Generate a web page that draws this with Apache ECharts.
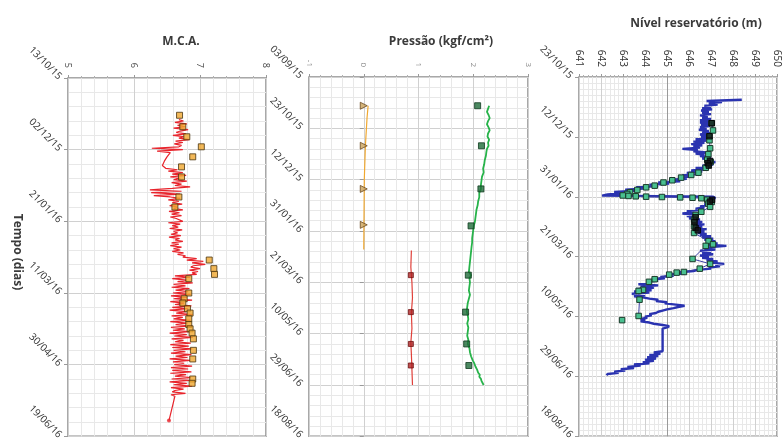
<!DOCTYPE html>
<html>
<head>
<meta charset="utf-8">
<script src="https://cdn.jsdelivr.net/npm/echarts@6/dist/echarts.min.js"></script>
<style>
html,body{margin:0;padding:0;background:#fff;}
#c{width:782px;height:442px;}
</style>
</head>
<body>
<div id="c"></div>
<script>
// ---------- Panel origins (time axis start of each panel) ----------
const mcaOrigin = '2015-10-13';
const presOrigin = '2015-09-03';
const nivOrigin = '2015-10-23';

// ---------- Panel 1: M.C.A. (days since 13/10/15) ----------
// daily readings starting at day 29 (null = no reading that day)
const mcaLineStart = 29;
const mcaLine = [
  6.68, 6.75, 6.62, 6.80, 6.66, 6.78, 6.60, 6.82, 6.70, 6.64, 6.79, 6.59, 6.76, 6.68, 6.84, 6.63, 6.74, 6.61, 6.72,
  6.68, 6.27, 6.74, 6.35,
  6.55, null, null, 6.50, null, null, 6.46, null, null, 6.43, null,
  6.48, 6.66, 6.52, 6.74, 6.58, 6.79, 6.55, 6.70, 6.60, 6.80, 6.57, 6.72,
  6.62, 6.85, 6.58,
  6.24, 6.72, 6.26, 6.70, 6.30,
  6.55, 6.70, 6.52, 6.68, 6.58, 6.73, 6.54, 6.66, 6.60, 6.74, 6.53, 6.69, 6.57, 6.72, 6.55, 6.64, 6.61, 6.74, 6.52, 6.70, 6.58,
  6.67, 6.54, 6.73, 6.60, 6.66, 6.56, 6.71, 6.53, 6.69, 6.62, 6.74, 6.57, 6.68, 6.55, 6.72, 6.60, 6.70, 6.58, 6.75, 6.66, 6.78,
  6.74, 6.95, 6.80, 7.05, 6.88, 7.08, 6.90,
  6.86, 7.00, 6.84, 6.97, 6.88, 6.95,
  6.62, 6.85, 6.58, 6.80, 6.66, 6.89, 6.60, 6.78, 6.57, 6.84, 6.63, 6.82, 6.59,
  6.86, 6.56, 6.80, 6.60, 6.88, 6.55, 6.76, 6.62, 6.87, 6.58, 6.82, 6.54, 6.79, 6.64, 6.89, 6.57, 6.74, 6.60, 6.86, 6.55,
  6.81, 6.63, 6.88, 6.56, 6.77, 6.59, 6.85, 6.54, 6.80, 6.61, 6.89, 6.57, 6.75, 6.62, 6.86, 6.55, 6.83, 6.58, 6.88, 6.60,
  6.78, 6.56, 6.87, 6.63, 6.81, 6.54, 6.85, 6.59, 6.76, 6.61, 6.88, 6.56, 6.82, 6.58, 6.87, 6.55, 6.79, 6.62, 6.86, 6.57,
  6.84, 6.54, 6.80, 6.60, 6.88, 6.56, 6.75, 6.62,
  6.58, 6.78, 6.56, 6.62,
  null, null, null, null, null, null, null, null, null, null, null, null, null, null, null, null,
  6.53
];
const mcaSquareDays = [26, 34, 41, 48, 55, 62, 69, 83, 90, 127, 133, 137, 140, 150, 154, 157, 161, 164, 168, 172, 175, 178, 182, 190, 196, 210, 213];
const mcaSquareVals = [6.69, 6.74, 6.80, 7.02, 6.89, 6.72, 6.72, 6.68, 6.62, 7.14, 7.21, 7.22, 6.83, 6.83, 6.76, 6.74, 6.81, 6.85, 6.83, 6.83, 6.85, 6.88, 6.90, 6.90, 6.89, 6.89, 6.88];

// ---------- Panel 2: Pressão (days since 03/09/15) ----------
const presOrangeLine = [[28, 0.08], [40, 0.06], [67, 0.03], [100, 0.01], [168, 0.0]];
const presTriangleDays = [28, 67, 109, 144];
const presTriangleVals = [0.0, 0.0, 0.0, 0.0];
const presRedLine = [[169, 0.87], [185, 0.86], [200, 0.88], [215, 0.89], [230, 0.87], [245, 0.88], [259, 0.86], [270, 0.87], [285, 0.88], [300, 0.89]];
const presRedDays = [193, 229, 260, 281];
const presRedVals = [0.86, 0.86, 0.86, 0.86];
const presGreenLine = [
  [28, 2.29], [31, 2.27], [34, 2.25], [37, 2.28], [40, 2.30], [43, 2.27], [46, 2.25], [49, 2.28], [52, 2.30], [55, 2.27],
  [58, 2.26], [61, 2.29], [64, 2.27], [67, 2.28], [70, 2.25], [73, 2.24], [77, 2.23], [81, 2.21], [85, 2.20], [89, 2.18],
  [93, 2.19], [97, 2.16], [101, 2.15], [105, 2.14], [109, 2.14], [113, 2.11], [117, 2.11], [121, 2.09], [125, 2.08], [129, 2.06],
  [133, 2.05], [137, 2.04], [141, 2.03], [145, 2.01], [149, 2.00], [153, 1.99], [157, 1.98], [161, 1.98], [165, 1.97], [170, 1.96],
  [175, 1.95], [180, 1.94], [185, 1.93], [190, 1.92], [193, 1.96], [196, 1.93], [200, 1.94], [204, 1.93], [208, 1.92], [212, 1.94],
  [216, 1.92], [220, 1.90], [224, 1.89], [228, 1.88], [232, 1.90], [236, 1.91], [240, 1.89], [244, 1.91], [248, 1.90], [252, 1.89],
  [256, 1.91], [260, 1.90], [264, 1.93], [268, 1.94], [272, 1.96], [276, 1.99], [279, 2.02], [282, 2.04], [285, 2.07], [288, 2.09],
  [290, 2.12], [292, 2.11], [294, 2.14], [296, 2.15], [298, 2.17], [300, 2.19]
];
const presGreenDays = [28, 67, 109, 145, 193, 229, 260, 281];
const presGreenVals = [2.08, 2.15, 2.14, 1.96, 1.91, 1.86, 1.88, 1.92];

// ---------- Panel 3: Nível reservatório (days since 23/10/15) ----------
const nivLineStart = 19;
const nivLine = [
  648.4, 646.8,
  647.5, 646.9, 647.3, 646.7, 647.0, 646.6, 647.05, 646.55, 646.9, 646.6, 647.0, 646.5, 646.85, 646.6, 647.0, 646.5, 646.9,
  646.5, 646.9, 646.55, 646.95, 646.5, 646.8, 646.45, 646.9, 646.6, 646.95, 646.5, 646.85, 646.55, 646.9,
  646.3, 646.8, 646.2, 646.7, 646.1, 646.6, 646.2, 646.5, 645.7, 646.4, 646.2, 646.8, 646.3, 646.7,
  646.5, 647.0, 646.6, 647.1, 646.7, 647.2, 646.9, 647.1,
  646.6, 647.0, 646.3, 646.8, 646.1, 646.6, 645.9, 646.4, 645.7, 646.2, 645.5, 645.9, 645.1, 645.6, 644.6, 645.1,
  644.2, 644.6, 643.6, 644.1, 643.1, 643.6, 642.6, 643.0, 642.3, 642.05,
  647.1,
  647.2, 646.9, 647.1, 646.8, 647.0, 646.7, 646.9, 646.5, 646.7, 646.3, 646.5, 645.9, 646.2, 645.7, 646.3, 645.9, 646.4, 646.0,
  646.5, 646.1, 646.6, 646.2, 646.7, 646.2, 646.6, 646.3, 646.8, 646.3, 646.7, 646.4, 646.8, 646.5, 647.0, 646.6, 647.1, 646.7,
  647.2, 646.8, 647.3, 646.9, 647.7,
  647.0, 646.7, 647.2, 646.5, 647.0, 646.6, 647.1, 646.5, 646.9, 646.6, 647.1,
  646.8, 647.3, 647.0, 647.6, 647.2, 647.4, 646.9, 647.0,
  646.4, 646.2, 645.6, 645.8, 645.1, 645.3, 644.7, 644.9, 644.3, 644.6, 644.1, 644.3,
  643.7, 644.6, 643.8, 644.4, 643.6, 644.3, 643.5, 644.2, 643.4, 644.0, 643.5, 643.9,
  644.2, 644.6, 644.5, 645.0, 644.9, 645.4, 645.8, 645.5,
  645.3, 645.0, 644.8, 644.6, 644.5, 644.2, 644.3, 644.0, 644.1, 643.8, 644.0, 643.8,
  644.2, 644.4, 644.8, 645.1, 645.0, 644.8,
  null, null, null, null, null, null, null, null, null, null, null, null, null, null, null, null, null, null,
  644.8,
  644.4, 644.7, 644.2, 644.6, 644.1, 644.5, 644.0, 644.4, 643.9, 644.2,
  643.5, 643.8, 643.2, 643.5, 642.9, 643.1, 642.6, 642.8, 642.3, 642.25
];
const nivSquareDays = [
  38.6, 44.6, 49.5, 52.8, 59.5, 64.4, 69.1, 70.9, 73.1, 75.8, 79.9, 81.8, 84.0, 86.2, 88.1, 90.7, 92.1, 94.3, 96.2, 97.6, 98.9,
  99.3, 99.6, 99.9, 100.2, 100.5, 100.8, 101.2, 102.5, 104.4,
  105.7, 108.4, 112.5, 115.2, 119.3, 124.7, 130.2, 137.0, 139.7, 141.0, 151.9, 156.0, 160.0, 162.8, 163.3, 165.0,
  168.8, 171.0, 177.7, 178.6, 185.9, 199.5, null, 203.0
];
const nivSquareVals = [
  647.03, 647.09, 646.93, 646.93, 646.96, 646.88, 646.83, 646.99, 646.89, 646.76, 646.43, 646.10, 645.64, 645.24, 644.84, 644.44, 644.05, 643.65, 643.32, 643.19, 642.99,
  643.25, 643.58, 644.05, 644.77, 645.60, 646.16, 646.56, 646.83, 647.03,
  646.88, 646.96, 646.56, 646.30, 646.23, 646.23, 646.23, 646.89, 647.09, 646.76, 646.16, 646.96, 646.49, 645.77, 645.44, 645.10,
  644.44, 644.18, 643.91, 643.71, 643.75, 643.71, null, 642.96
];
const nivBlackDays = [38.6, 49.5, 70.0, 72.0, 74.0, 102.5, 104.0, 117.0, 121.0, 126.0, 128.0];
const nivBlackVals = [647.03, 646.93, 646.95, 646.85, 646.90, 647.05, 646.95, 646.30, 646.25, 646.30, 646.40];

// ---------- helpers ----------
function pad(n) { return (n < 10 ? '0' : '') + n; }
function dateLabel(origin) {
  const t0 = Date.parse(origin + 'T00:00:00Z');
  return function (d) {
    const dt = new Date(t0 + Math.round(d) * 86400000);
    return pad(dt.getUTCDate()) + '/' + pad(dt.getUTCMonth() + 1) + '/' + String(dt.getUTCFullYear()).slice(2);
  };
}
function dailyPairs(start, vals) {
  return vals.map(function (v, i) { return [v, start + i]; }).filter(function (p) { return p[0] !== null; });
}
function zipPairs(days, vals) {
  return days.map(function (d, i) { return (d === null || vals[i] === null) ? ['-', '-'] : [vals[i], d]; });
}
function flip(pairs) { return pairs.map(function (p) { return [p[1], p[0]]; }); }

const FONT = '"Open Sans", "Noto Sans", sans-serif';
const gridCommon = { show: true, borderColor: '#8c8c8c', borderWidth: 1.5, containLabel: false };

function xAx(i, min, max, interval, minorSplit, labelOpt) {
  return {
    type: 'value', gridIndex: i, position: 'top', min: min, max: max, interval: interval,
    axisLine: { show: false },
    axisTick: { show: true, length: 3, lineStyle: { color: '#9a9a9a' } },
    minorTick: { show: true, splitNumber: minorSplit, length: 2, lineStyle: { color: '#b0b0b0' } },
    axisLabel: Object.assign({ rotate: -90, fontSize: 9, color: '#444', margin: 10, fontFamily: FONT, showMinLabel: true, showMaxLabel: true }, labelOpt || {}),
    splitLine: { show: true, lineStyle: { color: '#d0d0d0', width: 1 } },
    minorSplitLine: { show: true, lineStyle: { color: '#e8e8e8', width: 1 } }
  };
}
function yAx(i, max, origin, minorSplit) {
  return {
    type: 'value', gridIndex: i, inverse: true, min: 0, max: max, interval: 50,
    axisLine: { show: false },
    axisTick: { show: true, length: 4, lineStyle: { color: '#9a9a9a' } },
    minorTick: { show: false, splitNumber: minorSplit },
    axisLabel: { rotate: -45, fontSize: 10, color: '#333', margin: 8, fontFamily: FONT, formatter: dateLabel(origin), showMinLabel: true, showMaxLabel: true },
    splitLine: { show: true, lineStyle: { color: '#d0d0d0', width: 1 } },
    minorSplitLine: { show: true, lineStyle: { color: '#e8e8e8', width: 1 } }
  };
}

const chart = echarts.init(document.getElementById('c'), null, { renderer: 'canvas' });
const mcaLinePts = dailyPairs(mcaLineStart, mcaLine);
const nivLinePts = dailyPairs(nivLineStart, nivLine);

const option = {
  animation: false,
  backgroundColor: '#fff',
  grid: [
    Object.assign({ left: 68, top: 78, width: 198, height: 366 }, gridCommon),
    Object.assign({ left: 309, top: 77, width: 219, height: 366 }, gridCommon),
    Object.assign({ left: 579, top: 77, width: 227.5, height: 368 }, gridCommon)
  ],
  xAxis: [
    xAx(0, 5, 8, 1, 5),
    xAx(1, -1, 3, 1, 5, { fontSize: 8, color: '#8a8a8a' }),
    xAx(2, 641, 650, 1, 5, { fontSize: 10, color: '#333' })
  ],
  yAxis: [
    yAx(0, 250, mcaOrigin, 5),
    yAx(1, 350, presOrigin, 5),
    yAx(2, 300, nivOrigin, 10)
  ],
  graphic: [
    { type: 'text', x: 181, y: 42, style: { text: 'M.C.A.', font: 'bold 12px ' + FONT, fill: '#3a3a3a', align: 'center', verticalAlign: 'middle' } },
    { type: 'text', x: 441, y: 42, style: { text: 'Pressão (kgf/cm²)', font: 'bold 12px ' + FONT, fill: '#3a3a3a', align: 'center', verticalAlign: 'middle' } },
    { type: 'text', x: 696, y: 24, style: { text: 'Nível reservatório (m)', font: 'bold 12px ' + FONT, fill: '#3a3a3a', align: 'center', verticalAlign: 'middle' } },
    { type: 'text', x: 17, y: 252, rotation: -Math.PI / 2, style: { text: 'Tempo (dias)', font: 'bold 12px ' + FONT, fill: '#3a3a3a', align: 'center', verticalAlign: 'middle' } }
  ],
  series: [
    // Panel 1
    { type: 'line', xAxisIndex: 0, yAxisIndex: 0, data: mcaLinePts, showSymbol: false, lineStyle: { color: '#e8242c', width: 1.2 }, z: 2 },
    { type: 'scatter', xAxisIndex: 0, yAxisIndex: 0, data: mcaLinePts.slice(-1), symbol: 'circle', symbolSize: 4, itemStyle: { color: '#e8242c' }, z: 3 },
    { type: 'scatter', xAxisIndex: 0, yAxisIndex: 0, data: zipPairs(mcaSquareDays, mcaSquareVals), symbol: 'rect', symbolSize: 6,
      itemStyle: { color: '#f0a830', borderColor: '#4a3510', borderWidth: 1 }, z: 4 },
    // Panel 2
    { type: 'line', xAxisIndex: 1, yAxisIndex: 1, data: flip(presOrangeLine), showSymbol: false, lineStyle: { color: '#f0a830', width: 1.2 }, z: 2 },
    { type: 'scatter', xAxisIndex: 1, yAxisIndex: 1, data: zipPairs(presTriangleDays, presTriangleVals), symbol: 'triangle', symbolRotate: -90, symbolSize: 7,
      itemStyle: { color: '#c9a15a', borderColor: '#6a4a20', borderWidth: 1 }, z: 4 },
    { type: 'line', xAxisIndex: 1, yAxisIndex: 1, data: flip(presRedLine), showSymbol: false, lineStyle: { color: '#e0403a', width: 1.2 }, z: 2 },
    { type: 'scatter', xAxisIndex: 1, yAxisIndex: 1, data: zipPairs(presRedDays, presRedVals), symbol: 'rect', symbolSize: 5,
      itemStyle: { color: '#b02424', borderColor: '#701010', borderWidth: 1 }, z: 4 },
    { type: 'line', xAxisIndex: 1, yAxisIndex: 1, data: flip(presGreenLine), showSymbol: false, lineStyle: { color: '#27b34a', width: 1.8 }, z: 2 },
    { type: 'scatter', xAxisIndex: 1, yAxisIndex: 1, data: zipPairs(presGreenDays, presGreenVals), symbol: 'rect', symbolSize: 6,
      itemStyle: { color: '#1f6b3a', borderColor: '#0f3a1e', borderWidth: 1 }, z: 4 },
    // Panel 3
    { type: 'line', xAxisIndex: 2, yAxisIndex: 2, data: nivLinePts, showSymbol: false, lineStyle: { color: '#2a33b0', width: 2.4 }, z: 2,
      markLine: { symbol: 'none', silent: true, label: { show: false }, lineStyle: { color: '#9a9a9a', type: 'solid', width: 1 }, data: [{ xAxis: 645 }], z: 1 } },
    { type: 'line', xAxisIndex: 2, yAxisIndex: 2, data: zipPairs(nivSquareDays, nivSquareVals), symbol: 'rect', symbolSize: 5.5, showSymbol: true, connectNulls: false,
      lineStyle: { color: '#3b3fa5', width: 1 }, itemStyle: { color: '#49c08f', borderColor: '#1b3b2b', borderWidth: 1 }, z: 4 },
    { type: 'scatter', xAxisIndex: 2, yAxisIndex: 2, data: zipPairs(nivBlackDays, nivBlackVals), symbol: 'rect', symbolSize: 5.5,
      itemStyle: { color: '#111', borderColor: '#000', borderWidth: 1 }, z: 5 }
  ]
};
chart.setOption(option);
</script>
</body>
</html>
